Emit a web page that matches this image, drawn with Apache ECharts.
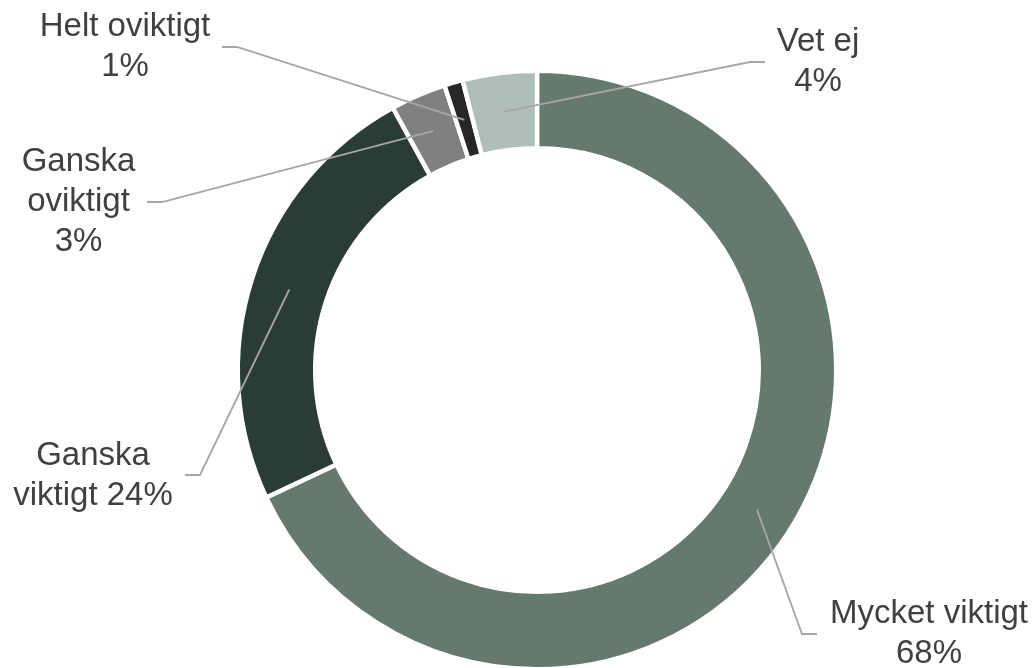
<!DOCTYPE html>
<html>
<head>
<meta charset="utf-8">
<script src="https://cdn.jsdelivr.net/npm/echarts@6/dist/echarts.min.js"></script>
<style>html,body{margin:0;padding:0;background:#fff;}#c{width:1035px;height:668px;}</style>
</head>
<body>
<div id="c"></div>
<script>
// ---- data ----
const categories = ['Mycket viktigt', 'Ganska viktigt', 'Ganska oviktigt', 'Helt oviktigt', 'Vet ej'];
const values = [68, 24, 3, 1, 4];
const labelTexts = ['Mycket viktigt\n68%', 'Ganska\nviktigt 24%', 'Ganska\noviktigt\n3%', 'Helt oviktigt\n1%', 'Vet ej\n4%'];

// ---- styling / layout ----
const colors = ['#65796f', '#2b3c35', '#808080', '#262626', '#afbfb7'];
const CX = 537, CY = 370, R0 = 224, R1 = 297;
const BORDER = 4.5;
// label centre and leader-line elbow/end (layout only)
const labelPlace = [
  { x: 929, y: 634, elbow: [802, 634], end: [817, 634] },
  { x: 93, y: 476, elbow: [200, 475], end: [185, 475] },
  { x: 78.5, y: 202, elbow: [162, 202], end: [147, 202] },
  { x: 125, y: 47, elbow: [237, 47], end: [222, 47] },
  { x: 818, y: 62, elbow: [750, 62], end: [765, 62] }
];

const total = values.reduce((a, b) => a + b, 0);
function midRingPoint(i) {
  let before = 0;
  for (let k = 0; k < i; k++) before += values[k];
  const frac = (before + values[i] / 2) / total;
  const ang = -Math.PI / 2 + frac * Math.PI * 2;
  const rm = (R0 + R1) / 2;
  return [CX + rm * Math.cos(ang), CY + rm * Math.sin(ang)];
}

const chart = echarts.init(document.getElementById('c'), null, { renderer: 'canvas' });
chart.setOption({
  animation: false,
  backgroundColor: '#ffffff',
  series: [{
    type: 'pie',
    center: [CX, CY],
    radius: [R0 - BORDER / 2, R1 + BORDER / 2],
    startAngle: 90,
    clockwise: true,
    silent: true,
    z: 1,
    itemStyle: { borderColor: '#ffffff', borderWidth: BORDER },
    label: { show: false },
    labelLine: { show: false },
    data: categories.map((c, i) => ({ name: c, value: values[i], itemStyle: { color: colors[i] } }))
  }, {
    type: 'pie',
    center: [CX, CY],
    radius: [R0, R1],
    startAngle: 90,
    clockwise: true,
    silent: true,
    z: 5,
    avoidLabelOverlap: false,
    itemStyle: { color: 'rgba(0,0,0,0)', borderWidth: 0 },
    label: {
      show: true,
      position: 'outside',
      formatter: p => labelTexts[p.dataIndex],
      color: '#404040',
      fontFamily: 'Liberation Sans, Arial, sans-serif',
      fontSize: 33,
      lineHeight: 40,
      align: 'center'
    },
    labelLine: {
      show: true,
      length: 10,
      length2: 10,
      lineStyle: { color: '#a6a6a6', width: 1.8 }
    },
    labelLayout: function (params) {
      const i = params.dataIndex;
      const lp = labelPlace[i];
      return {
        x: lp.x,
        y: lp.y,
        align: 'center',
        verticalAlign: 'middle',
        labelLinePoints: [midRingPoint(i), lp.elbow, lp.end]
      };
    },
    data: categories.map((c, i) => ({ name: c, value: values[i] }))
  }]
});
</script>
</body>
</html>
